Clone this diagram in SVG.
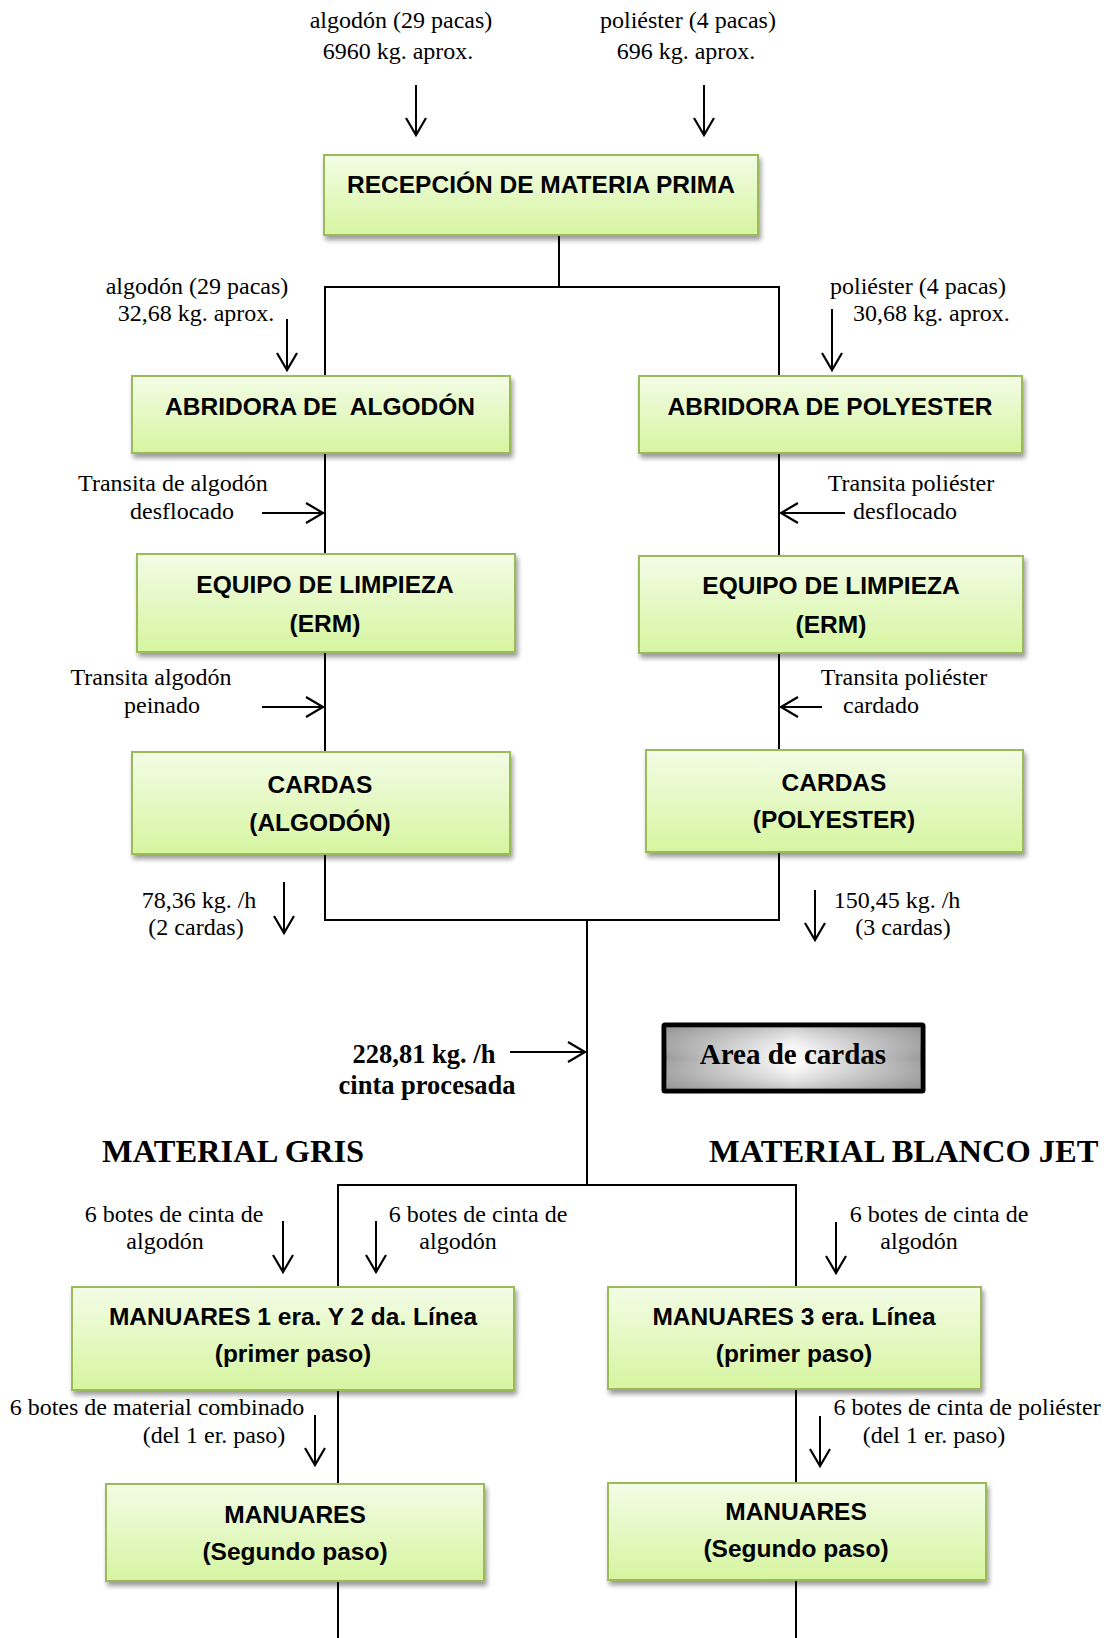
<svg xmlns="http://www.w3.org/2000/svg" width="1111" height="1638" viewBox="0 0 1111 1638">
  <style>
    .lbl { font-family: "Liberation Serif", "Times New Roman", serif; font-size: 24px; fill: #000; }
    .mid { text-anchor: middle; }
    .hd { font-family: "Liberation Serif", "Times New Roman", serif; font-weight: bold; fill: #000; }
    .node rect.bx { fill: url(#boxFill); stroke: #9bbb59; stroke-width: 2; filter: url(#shadow); }
    .node text { font-family: "Liberation Sans", Arial, sans-serif; font-weight: bold; font-size: 24.5px; fill: #000; text-anchor: middle; white-space: pre; }
    .ln { stroke: #000; stroke-width: 2; fill: none; }
    .ar { stroke: #000; stroke-width: 2; fill: none; marker-end: url(#head); }
  </style>
  <defs>
    <linearGradient id="boxFill" x1="0" y1="0" x2="0" y2="1">
      <stop offset="0" stop-color="#f3fce6"/>
      <stop offset="1" stop-color="#d6f5a0"/>
    </linearGradient>
    <linearGradient id="steelH" x1="0" y1="0" x2="1" y2="0">
      <stop offset="0" stop-color="#9a9a9a"/>
      <stop offset="0.5" stop-color="#ffffff"/>
      <stop offset="1" stop-color="#9a9a9a"/>
    </linearGradient>
    <linearGradient id="steelV" x1="0" y1="0" x2="0" y2="1">
      <stop offset="0" stop-color="#8a8a8a" stop-opacity="0.45"/>
      <stop offset="0.5" stop-color="#ffffff" stop-opacity="0"/>
      <stop offset="1" stop-color="#8a8a8a" stop-opacity="0.45"/>
    </linearGradient>
    <filter id="shadow" x="-10%" y="-10%" width="125%" height="140%">
      <feGaussianBlur in="SourceAlpha" stdDeviation="2.5"/>
      <feOffset dx="2" dy="4" result="b"/>
      <feComponentTransfer><feFuncA type="linear" slope="0.4"/></feComponentTransfer>
      <feMerge><feMergeNode/><feMergeNode in="SourceGraphic"/></feMerge>
    </filter>
    <marker id="head" markerUnits="userSpaceOnUse" markerWidth="22" markerHeight="24" refX="18" refY="11" orient="auto">
      <path d="M1,1 L18,11 L1,21" fill="none" stroke="#000" stroke-width="2.2"/>
    </marker>
  </defs>

  <rect width="1111" height="1638" fill="#fff"/>

  <!-- connectors -->
  <g id="connectors">
    <!-- raw material inputs -->
    <line class="ar" x1="416" y1="85" x2="416" y2="135"/>
    <line class="ar" x1="704" y1="85" x2="704" y2="135"/>
    <!-- split to openers -->
    <polyline class="ln" points="559,235 559,287"/>
    <polyline class="ln" points="325,376 325,287 779,287 779,376"/>
    <line class="ar" x1="287" y1="319" x2="287" y2="370"/>
    <line class="ar" x1="832" y1="309" x2="832" y2="370"/>
    <!-- openers to cleaning -->
    <line class="ln" x1="325" y1="453" x2="325" y2="554"/>
    <line class="ln" x1="779" y1="453" x2="779" y2="556"/>
    <line class="ar" x1="262" y1="513" x2="323" y2="513"/>
    <line class="ar" x1="845" y1="513" x2="781" y2="513"/>
    <!-- cleaning to cards -->
    <line class="ln" x1="325" y1="652" x2="325" y2="752"/>
    <line class="ln" x1="779" y1="653" x2="779" y2="750"/>
    <line class="ar" x1="262" y1="707" x2="323" y2="707"/>
    <line class="ar" x1="822" y1="707" x2="781" y2="707"/>
    <!-- cards merge -->
    <polyline class="ln" points="325,854 325,920 779,920 779,852"/>
    <line class="ar" x1="284" y1="882" x2="284" y2="933"/>
    <line class="ar" x1="815" y1="890" x2="815" y2="940"/>
    <line class="ln" x1="587" y1="920" x2="587" y2="1185"/>
    <line class="ar" x1="510" y1="1052" x2="585" y2="1052"/>
    <!-- split to drawing frames -->
    <polyline class="ln" points="338,1287 338,1185 796,1185 796,1287"/>
    <line class="ar" x1="283" y1="1221" x2="283" y2="1272"/>
    <line class="ar" x1="376" y1="1221" x2="376" y2="1272"/>
    <line class="ar" x1="836" y1="1222" x2="836" y2="1273"/>
    <!-- first pass to second pass -->
    <line class="ln" x1="338" y1="1390" x2="338" y2="1484"/>
    <line class="ln" x1="796" y1="1389" x2="796" y2="1483"/>
    <line class="ar" x1="315" y1="1415" x2="315" y2="1465"/>
    <line class="ar" x1="820" y1="1416" x2="820" y2="1466"/>
    <!-- onward -->
    <line class="ln" x1="338" y1="1581" x2="338" y2="1638"/>
    <line class="ln" x1="796" y1="1580" x2="796" y2="1638"/>
  </g>

  <!-- flow labels -->
  <g id="labels">
    <text class="lbl mid" x="401" y="28">algodón (29 pacas)</text>
    <text class="lbl mid" x="398" y="59">6960 kg. aprox.</text>
    <text class="lbl mid" x="688" y="28">poliéster (4 pacas)</text>
    <text class="lbl mid" x="686" y="59">696 kg. aprox.</text>

    <text class="lbl mid" x="197" y="294">algodón (29 pacas)</text>
    <text class="lbl mid" x="196" y="321">32,68 kg. aprox.</text>
    <text class="lbl" x="830" y="294">poliéster (4 pacas)</text>
    <text class="lbl" x="853" y="321">30,68 kg. aprox.</text>

    <text class="lbl mid" x="173" y="491">Transita de algodón</text>
    <text class="lbl mid" x="182" y="519">desflocado</text>
    <text class="lbl mid" x="911" y="491">Transita poliéster</text>
    <text class="lbl mid" x="905" y="519">desflocado</text>

    <text class="lbl mid" x="151" y="685">Transita algodón</text>
    <text class="lbl mid" x="162" y="713">peinado</text>
    <text class="lbl mid" x="904" y="685">Transita poliéster</text>
    <text class="lbl mid" x="881" y="713">cardado</text>

    <text class="lbl mid" x="199" y="908">78,36 kg. /h</text>
    <text class="lbl mid" x="196" y="935">(2 cardas)</text>
    <text class="lbl mid" x="897" y="908">150,45 kg. /h</text>
    <text class="lbl mid" x="903" y="935">(3 cardas)</text>

    <text class="hd mid" x="424" y="1063" font-size="26.5">228,81 kg. /h</text>
    <text class="hd mid" x="427" y="1094" font-size="26.5">cinta procesada</text>

    <text class="hd" x="102" y="1162" font-size="32.5">MATERIAL GRIS</text>
    <text class="hd" x="709" y="1162" font-size="32.5">MATERIAL BLANCO JET</text>

    <text class="lbl mid" x="174" y="1222">6 botes de cinta de</text>
    <text class="lbl mid" x="165" y="1249">algodón</text>
    <text class="lbl mid" x="478" y="1222">6 botes de cinta de</text>
    <text class="lbl mid" x="458" y="1249">algodón</text>
    <text class="lbl mid" x="939" y="1222">6 botes de cinta de</text>
    <text class="lbl mid" x="919" y="1249">algodón</text>

    <text class="lbl mid" x="157" y="1415">6 botes de material combinado</text>
    <text class="lbl mid" x="214" y="1443">(del 1 er. paso)</text>
    <text class="lbl mid" x="967" y="1415">6 botes de cinta de poliéster</text>
    <text class="lbl mid" x="934" y="1443">(del 1 er. paso)</text>
  </g>

  <!-- process nodes -->
  <g id="recepcion" class="node">
    <rect class="bx" x="324" y="155" width="434" height="80"/>
    <text x="541" y="193">RECEPCIÓN DE MATERIA PRIMA</text>
  </g>
  <g id="abridora-algodon" class="node">
    <rect class="bx" x="132" y="376" width="378" height="77"/>
    <text x="320" y="415">ABRIDORA DE  ALGODÓN</text>
  </g>
  <g id="abridora-polyester" class="node">
    <rect class="bx" x="639" y="376" width="383" height="77"/>
    <text x="830" y="415">ABRIDORA DE POLYESTER</text>
  </g>
  <g id="limpieza-algodon" class="node">
    <rect class="bx" x="137" y="554" width="378" height="98"/>
    <text x="325" y="593">EQUIPO DE LIMPIEZA</text>
    <text x="325" y="632">(ERM)</text>
  </g>
  <g id="limpieza-polyester" class="node">
    <rect class="bx" x="639" y="556" width="384" height="97"/>
    <text x="831" y="594">EQUIPO DE LIMPIEZA</text>
    <text x="831" y="633">(ERM)</text>
  </g>
  <g id="cardas-algodon" class="node">
    <rect class="bx" x="132" y="752" width="378" height="102"/>
    <text x="320" y="793">CARDAS</text>
    <text x="320" y="831">(ALGODÓN)</text>
  </g>
  <g id="cardas-polyester" class="node">
    <rect class="bx" x="646" y="750" width="377" height="102"/>
    <text x="834" y="791">CARDAS</text>
    <text x="834" y="828">(POLYESTER)</text>
  </g>
  <g id="area-cardas">
    <rect x="664" y="1025" width="259" height="66" fill="url(#steelH)" stroke="#000" stroke-width="5" rx="1"/>
    <rect x="666" y="1027" width="255" height="62" fill="url(#steelV)"/>
    <text class="hd mid" x="793" y="1064" font-size="29">Area de cardas</text>
  </g>
  <g id="manuares-1-2" class="node">
    <rect class="bx" x="72" y="1287" width="442" height="103"/>
    <text x="293" y="1325">MANUARES 1 era. Y 2 da. Línea</text>
    <text x="293" y="1362">(primer paso)</text>
  </g>
  <g id="manuares-3" class="node">
    <rect class="bx" x="608" y="1287" width="373" height="102"/>
    <text x="794" y="1325">MANUARES 3 era. Línea</text>
    <text x="794" y="1362">(primer paso)</text>
  </g>
  <g id="manuares-2-gris" class="node">
    <rect class="bx" x="106" y="1484" width="378" height="97"/>
    <text x="295" y="1523">MANUARES</text>
    <text x="295" y="1560">(Segundo paso)</text>
  </g>
  <g id="manuares-2-blanco" class="node">
    <rect class="bx" x="608" y="1483" width="378" height="97"/>
    <text x="796" y="1520">MANUARES</text>
    <text x="796" y="1557">(Segundo paso)</text>
  </g>
</svg>
